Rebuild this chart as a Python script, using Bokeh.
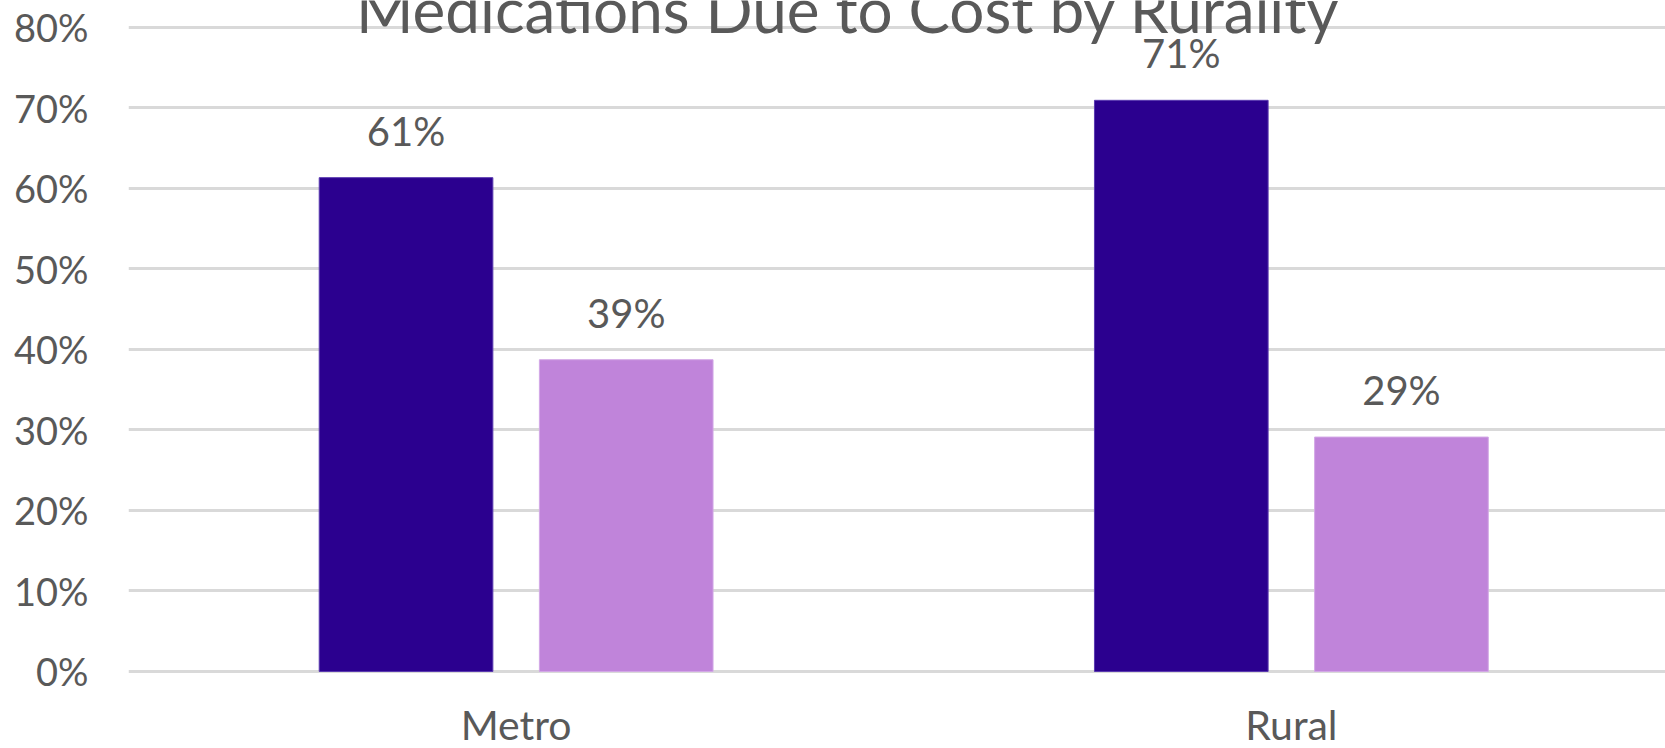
from bokeh.plotting import figure
from bokeh.models import ColumnDataSource, Range1d, FixedTicker, PrintfTickFormatter
from bokeh.embed import file_html
from bokeh.resources import INLINE
from bokeh.core.properties import value

# ---- data ----
categories = ["Metro", "Rural"]
series_dark = [61.3, 70.9]
series_light = [38.7, 29.1]
y_ticks = [0, 10, 20, 30, 40, 50, 60, 70, 80]
title_text = "Medications Due to Cost by Rurality"

# ---- styling ----
DARK = "#2B008F"
LIGHT = "#C084DA"
TEXT = "#595959"
GRID = "#D9D9D9"
FONT = "Lato"

centers = [i + 0.5 for i in range(len(categories))]
offset = 0.142
bar_w = 0.224

src_dark = ColumnDataSource(dict(
    x=[c - offset for c in centers], top=series_dark,
    label=[f"{round(v)}%" for v in series_dark]))
src_light = ColumnDataSource(dict(
    x=[c + offset for c in centers], top=series_light,
    label=[f"{round(v)}%" for v in series_light]))
src_cat = ColumnDataSource(dict(x=centers, y=[0] * len(centers), text=categories))

p = figure(width=1665, height=748, output_backend="svg", toolbar_location=None,
           x_range=Range1d(0, 1.9826), y_range=Range1d(-9.56, 83.29),
           min_border_left=128, min_border_right=0, min_border_top=0, min_border_bottom=0)
p.outline_line_color = None
p.background_fill_color = "white"
p.border_fill_color = "white"

p.vbar(x="x", top="top", width=bar_w, bottom=0, source=src_dark,
       fill_color=DARK, line_color="#5A3AB0", line_width=1)
p.vbar(x="x", top="top", width=bar_w, bottom=0, source=src_light,
       fill_color=LIGHT, line_color="#D2A8E6", line_width=1)

for src in (src_dark, src_light):
    p.text(x="x", y="top", text="label", source=src, text_align="center",
           text_baseline="alphabetic", y_offset=-47, text_color=TEXT,
           text_font=value(FONT), text_font_size="40px")

# category labels below the zero line
p.text(x="x", y="y", text="text", source=src_cat, text_align="center",
       text_baseline="alphabetic", y_offset=53, text_color=TEXT,
       text_font=value(FONT), text_font_size="41px")

# axes
p.xgrid.grid_line_color = None
p.ygrid.grid_line_color = GRID
p.ygrid.grid_line_width = 3
p.ygrid.level = "underlay"

p.yaxis.ticker = FixedTicker(ticks=y_ticks)
p.yaxis.formatter = PrintfTickFormatter(format="%d%%")
p.yaxis.axis_line_color = None
p.yaxis.major_tick_line_color = None
p.yaxis.minor_tick_line_color = None
p.yaxis.major_tick_out = 0
p.yaxis.major_tick_in = 0
p.yaxis.major_label_text_color = TEXT
p.yaxis.major_label_text_font = FONT
p.yaxis.major_label_text_font_size = "38px"
p.yaxis.major_label_standoff = 40
p.xaxis.visible = False

# chart title (only its last line is inside the visible area)
p.text(x=[0.928], y=[82.18], text=[title_text], text_align="center",
       text_baseline="alphabetic", text_color=TEXT,
       text_font=value(FONT), text_font_size="62px")

open("out.html", "w").write(file_html(p, INLINE))
